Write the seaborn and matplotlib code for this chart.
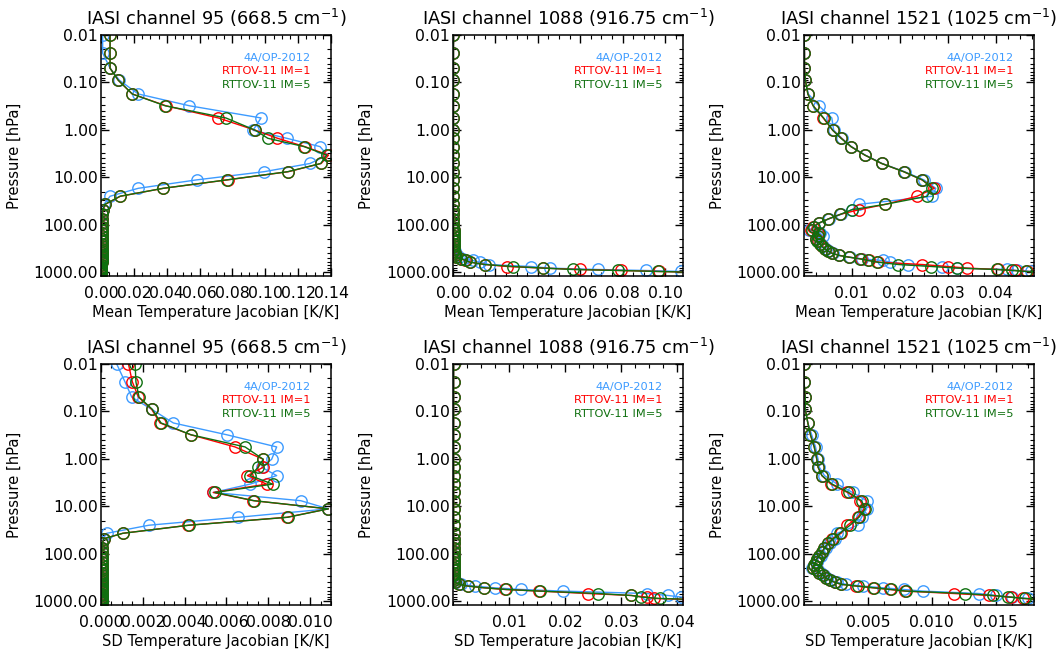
import numpy as np
import pandas as pd
import matplotlib
matplotlib.use("Agg")
import matplotlib.pyplot as plt
import seaborn as sns
from matplotlib.ticker import (FixedLocator, FormatStrFormatter, LogLocator,
                               NullFormatter, AutoMinorLocator)

# ---------------------------------------------------------------------------
# Pressure levels [hPa] shared by all profiles
# ---------------------------------------------------------------------------
pressure = [0.01, 0.024, 0.05, 0.09, 0.175, 0.31, 0.56, 1.02, 1.5, 2.25,
            3.4, 5.1, 7.6, 11.3, 17, 25, 37, 48, 60, 75,
            92, 110, 128, 148, 170, 195, 222, 252, 285, 320,
            358, 398, 440, 480, 521, 565, 611, 687, 756, 817,
            874, 917, 962, 1005, 1050, 1100]

models = ["4A/OP-2012", "RTTOV-11 IM=1", "RTTOV-11 IM=5"]
model_colors = ["#3d9bff", "#ff0000", "#0f700f"]

# ---------------------------------------------------------------------------
# Channel 95 (668.5 cm-1) - mean Jacobian
# ---------------------------------------------------------------------------
mean95_4a = [0.0010, 0.0010, 0.0055, 0.0112, 0.0227, 0.0538, 0.0974, 0.0925, 0.1130, 0.1333,
             0.1378, 0.1272, 0.0992, 0.0582, 0.0227, 0.0055, 0.0018, 0.0010, 0.0007, 0.0006,
             0.0005, 0.0005, 0.0004, 0.0004, 0.0004, 0.0004, 0.0004, 0.0004, 0.0003, 0.0003,
             0.0003, 0.0003, 0.0003, 0.0003, 0.0003, 0.0003, 0.0003, 0.0002, 0.0002, 0.0002,
             0.0002, 0.0002, 0.0002, 0.0002, 0.0002, 0.0002]
mean95_im1 = [0.0055, 0.0055, 0.0055, 0.0105, 0.0190, 0.0395, 0.0714, 0.0940, 0.1074, 0.1240,
              0.1385, 0.1340, 0.1140, 0.0770, 0.0380, 0.0118, 0.0026, 0.0012, 0.0008, 0.0006,
              0.0005, 0.0005, 0.0004, 0.0004, 0.0004, 0.0004, 0.0004, 0.0003, 0.0003, 0.0003,
              0.0003, 0.0003, 0.0003, 0.0003, 0.0003, 0.0003, 0.0003, 0.0002, 0.0002, 0.0002,
              0.0002, 0.0002, 0.0002, 0.0002, 0.0002, 0.0002]
mean95_im5 = [0.0055, 0.0055, 0.0055, 0.0105, 0.0190, 0.0390, 0.0760, 0.0940, 0.1015, 0.1236,
              0.1374, 0.1337, 0.1136, 0.0765, 0.0379, 0.0116, 0.0024, 0.0012, 0.0008, 0.0006,
              0.0005, 0.0005, 0.0004, 0.0004, 0.0004, 0.0004, 0.0004, 0.0003, 0.0003, 0.0003,
              0.0003, 0.0003, 0.0003, 0.0003, 0.0003, 0.0003, 0.0003, 0.0002, 0.0002, 0.0002,
              0.0002, 0.0002, 0.0002, 0.0002, 0.0002, 0.0002]

# ---------------------------------------------------------------------------
# Channel 1088 (916.75 cm-1) - mean Jacobian
# ---------------------------------------------------------------------------
mean1088_4a = [0.0002, 0.0002, 0.0002, 0.0002, 0.0002, 0.0002, 0.0002, 0.0002, 0.0002, 0.0002,
               0.0002, 0.0002, 0.0002, 0.0002, 0.0002, 0.0002, 0.0002, 0.0002, 0.0002, 0.0002,
               0.0002, 0.0002, 0.0003, 0.0003, 0.0003, 0.0003, 0.0004, 0.0004, 0.0005, 0.0006,
               0.0008, 0.0011, 0.0018, 0.0030, 0.0047, 0.0094, 0.0125, 0.0170, 0.0367, 0.0456,
               0.0684, 0.0909, 0.1077, 0.1250, 0.1380, 0.1450]
mean1088_im1 = [0.0002, 0.0002, 0.0002, 0.0002, 0.0002, 0.0002, 0.0002, 0.0002, 0.0002, 0.0002,
                0.0002, 0.0002, 0.0002, 0.0002, 0.0002, 0.0002, 0.0002, 0.0002, 0.0002, 0.0002,
                0.0002, 0.0002, 0.0003, 0.0003, 0.0003, 0.0003, 0.0003, 0.0004, 0.0004, 0.0005,
                0.0006, 0.0008, 0.0011, 0.0016, 0.0038, 0.0058, 0.0080, 0.0150, 0.0256, 0.0425,
                0.0597, 0.0790, 0.0972, 0.1160, 0.1310, 0.1410]
mean1088_im5 = [0.0002, 0.0002, 0.0002, 0.0002, 0.0002, 0.0002, 0.0002, 0.0002, 0.0002, 0.0002,
                0.0002, 0.0002, 0.0002, 0.0002, 0.0002, 0.0002, 0.0002, 0.0002, 0.0002, 0.0002,
                0.0002, 0.0002, 0.0003, 0.0003, 0.0003, 0.0003, 0.0003, 0.0004, 0.0004, 0.0005,
                0.0006, 0.0008, 0.0011, 0.0016, 0.0039, 0.0060, 0.0079, 0.0150, 0.0283, 0.0425,
                0.0564, 0.0780, 0.0965, 0.1150, 0.1300, 0.1400]

# ---------------------------------------------------------------------------
# Channel 1521 (1025 cm-1) - mean Jacobian
# ---------------------------------------------------------------------------
mean1521_4a = [0.0000, 0.0001, 0.0001, 0.0003, 0.0009, 0.0031, 0.0058, 0.0062, 0.0079, 0.0099,
               0.0128, 0.0163, 0.0210, 0.0250, 0.0275, 0.0268, 0.0115, 0.0100, 0.0078, 0.0052,
               0.0032, 0.0021, 0.0011, 0.0033, 0.0040, 0.0026, 0.0030, 0.0035, 0.0039, 0.0045,
               0.0052, 0.0060, 0.0074, 0.0095, 0.0120, 0.0164, 0.0180, 0.0216, 0.0288, 0.0320,
               0.0423, 0.0445, 0.0474, 0.0530, 0.0570, 0.0610]
mean1521_im1 = [0.0000, 0.0001, 0.0001, 0.0003, 0.0008, 0.0019, 0.0040, 0.0060, 0.0078, 0.0098,
                0.0127, 0.0162, 0.0208, 0.0246, 0.0272, 0.0236, 0.0170, 0.0115, 0.0076, 0.0051,
                0.0031, 0.0018, 0.0015, 0.0030, 0.0030, 0.0025, 0.0029, 0.0034, 0.0038, 0.0044,
                0.0051, 0.0059, 0.0073, 0.0094, 0.0118, 0.0136, 0.0155, 0.0247, 0.0300, 0.0340,
                0.0405, 0.0440, 0.0466, 0.0520, 0.0560, 0.0600]
mean1521_im5 = [0.0000, 0.0001, 0.0001, 0.0003, 0.0008, 0.0019, 0.0041, 0.0060, 0.0077, 0.0098,
                0.0127, 0.0162, 0.0208, 0.0247, 0.0267, 0.0257, 0.0170, 0.0100, 0.0076, 0.0051,
                0.0031, 0.0020, 0.0017, 0.0031, 0.0029, 0.0024, 0.0028, 0.0033, 0.0037, 0.0043,
                0.0050, 0.0058, 0.0072, 0.0093, 0.0116, 0.0134, 0.0152, 0.0197, 0.0266, 0.0319,
                0.0402, 0.0435, 0.0464, 0.0520, 0.0560, 0.0600]

# ---------------------------------------------------------------------------
# Channel 95 (668.5 cm-1) - standard deviation of the Jacobian
# ---------------------------------------------------------------------------
sd95_4a = [0.00075, 0.00115, 0.00147, 0.00242, 0.00346, 0.00601, 0.00840, 0.00816, 0.00768, 0.00840,
           0.00713, 0.00537, 0.00955, 0.01087, 0.00657, 0.00229, 0.00027, 0.00010, 0.00005, 0.00004,
           0.00004, 0.00004, 0.00004, 0.00004, 0.00004, 0.00004, 0.00004, 0.00004, 0.00004, 0.00004,
           0.00003, 0.00003, 0.00003, 0.00003, 0.00003, 0.00003, 0.00003, 0.00003, 0.00003, 0.00003,
           0.00003, 0.00003, 0.00003, 0.00003, 0.00003, 0.00003]
sd95_im1 = [0.00131, 0.00150, 0.00179, 0.00242, 0.00282, 0.00429, 0.00641, 0.00776, 0.00776, 0.00700,
            0.00792, 0.00537, 0.00729, 0.01087, 0.00888, 0.00418, 0.00104, 0.00014, 0.00006, 0.00004,
            0.00004, 0.00004, 0.00004, 0.00004, 0.00004, 0.00004, 0.00004, 0.00004, 0.00004, 0.00004,
            0.00003, 0.00003, 0.00003, 0.00003, 0.00003, 0.00003, 0.00003, 0.00003, 0.00003, 0.00003,
            0.00003, 0.00003, 0.00003, 0.00003, 0.00003, 0.00003]
sd95_im5 = [0.00163, 0.00167, 0.00182, 0.00245, 0.00287, 0.00430, 0.00689, 0.00776, 0.00752, 0.00713,
            0.00821, 0.00545, 0.00732, 0.01087, 0.00893, 0.00422, 0.00104, 0.00014, 0.00006, 0.00004,
            0.00004, 0.00004, 0.00004, 0.00004, 0.00004, 0.00004, 0.00004, 0.00004, 0.00004, 0.00004,
            0.00003, 0.00003, 0.00003, 0.00003, 0.00003, 0.00003, 0.00003, 0.00003, 0.00003, 0.00003,
            0.00003, 0.00003, 0.00003, 0.00003, 0.00003, 0.00003]

# ---------------------------------------------------------------------------
# Channel 1088 (916.75 cm-1) - standard deviation of the Jacobian
# ---------------------------------------------------------------------------
sd1088_4a = [0.0001, 0.0001, 0.0001, 0.0001, 0.0001, 0.0001, 0.0001, 0.0001, 0.0001, 0.0001,
             0.0001, 0.0001, 0.0001, 0.0001, 0.0001, 0.0001, 0.0001, 0.0001, 0.0001, 0.0001,
             0.0001, 0.0001, 0.0001, 0.0001, 0.0001, 0.0001, 0.0001, 0.0002, 0.0002, 0.0002,
             0.0003, 0.0005, 0.0014, 0.0039, 0.0074, 0.0122, 0.0196, 0.0345, 0.0383, 0.0407,
             0.0440, 0.0480, 0.0520, 0.0550, 0.0580, 0.0600]
sd1088_im1 = [0.0001, 0.0001, 0.0001, 0.0001, 0.0001, 0.0001, 0.0001, 0.0001, 0.0001, 0.0001,
              0.0001, 0.0001, 0.0001, 0.0001, 0.0001, 0.0001, 0.0001, 0.0001, 0.0001, 0.0001,
              0.0001, 0.0001, 0.0001, 0.0001, 0.0001, 0.0001, 0.0001, 0.0001, 0.0002, 0.0002,
              0.0002, 0.0004, 0.0010, 0.0027, 0.0055, 0.0093, 0.0153, 0.0240, 0.0318, 0.0345,
              0.0359, 0.0420, 0.0470, 0.0510, 0.0540, 0.0560]
sd1088_im5 = [0.0001, 0.0001, 0.0001, 0.0001, 0.0001, 0.0001, 0.0001, 0.0001, 0.0001, 0.0001,
              0.0001, 0.0001, 0.0001, 0.0001, 0.0001, 0.0001, 0.0001, 0.0001, 0.0001, 0.0001,
              0.0001, 0.0001, 0.0001, 0.0001, 0.0001, 0.0001, 0.0001, 0.0001, 0.0002, 0.0002,
              0.0002, 0.0004, 0.0010, 0.0027, 0.0056, 0.0095, 0.0155, 0.0259, 0.0318, 0.0335,
              0.0369, 0.0430, 0.0480, 0.0520, 0.0550, 0.0570]

# ---------------------------------------------------------------------------
# Channel 1521 (1025 cm-1) - standard deviation of the Jacobian
# ---------------------------------------------------------------------------
sd1521_4a = [0.0000, 0.0000, 0.0001, 0.0001, 0.0003, 0.0006, 0.0009, 0.0011, 0.0012, 0.0016,
             0.0026, 0.0038, 0.0049, 0.0049, 0.0045, 0.0042, 0.0026, 0.0024, 0.0020, 0.0017,
             0.0015, 0.0013, 0.0011, 0.0010, 0.0008, 0.0006, 0.0011, 0.0013, 0.0016, 0.0018,
             0.0021, 0.0026, 0.0033, 0.0046, 0.0062, 0.0078, 0.0093, 0.0137, 0.0150, 0.0163,
             0.0175, 0.0190, 0.0200, 0.0210, 0.0218, 0.0225]
sd1521_im1 = [0.0000, 0.0000, 0.0001, 0.0001, 0.0003, 0.0005, 0.0008, 0.0010, 0.0011, 0.0014,
              0.0021, 0.0034, 0.0044, 0.0047, 0.0042, 0.0034, 0.0029, 0.0022, 0.0019, 0.0016,
              0.0014, 0.0012, 0.0010, 0.0009, 0.0008, 0.0007, 0.0010, 0.0012, 0.0015, 0.0017,
              0.0020, 0.0024, 0.0029, 0.0041, 0.0054, 0.0067, 0.0079, 0.0117, 0.0145, 0.0162,
              0.0171, 0.0185, 0.0195, 0.0205, 0.0212, 0.0220]
sd1521_im5 = [0.0000, 0.0000, 0.0001, 0.0001, 0.0003, 0.0005, 0.0008, 0.0010, 0.0011, 0.0014,
              0.0022, 0.0035, 0.0045, 0.0048, 0.0043, 0.0036, 0.0028, 0.0023, 0.0019, 0.0016,
              0.0014, 0.0012, 0.0010, 0.0009, 0.0008, 0.0007, 0.0010, 0.0012, 0.0015, 0.0017,
              0.0020, 0.0024, 0.0029, 0.0042, 0.0055, 0.0068, 0.0080, 0.0126, 0.0148, 0.0160,
              0.0173, 0.0185, 0.0195, 0.0205, 0.0212, 0.0220]

# ---------------------------------------------------------------------------
# Titles, axis limits and tick labels
# ---------------------------------------------------------------------------
titles = [r"IASI channel 95 (668.5 cm$^{-1}$)",
          r"IASI channel 1088 (916.75 cm$^{-1}$)",
          r"IASI channel 1521 (1025 cm$^{-1}$)"]
pressure_ticks = [0.01, 0.1, 1, 10, 100, 1000]

mean_xmax = [0.14, 0.1085, 0.048]
mean_xticks = [[0.00, 0.02, 0.04, 0.06, 0.08, 0.10, 0.12, 0.14],
               [0.00, 0.02, 0.04, 0.06, 0.08, 0.10],
               [0.01, 0.02, 0.03, 0.04]]
mean_xfmt = ["%.2f", "%.2f", "%.2f"]

sd_xmax = [0.011, 0.041, 0.018]
sd_xticks = [[0.000, 0.002, 0.004, 0.006, 0.008, 0.010],
             [0.01, 0.02, 0.03, 0.04],
             [0.005, 0.010, 0.015]]
sd_xfmt = ["%.3f", "%.2f", "%.3f"]

mean_series = [[mean95_4a, mean95_im1, mean95_im5],
               [mean1088_4a, mean1088_im1, mean1088_im5],
               [mean1521_4a, mean1521_im1, mean1521_im5]]
sd_series = [[sd95_4a, sd95_im1, sd95_im5],
             [sd1088_4a, sd1088_im1, sd1088_im5],
             [sd1521_4a, sd1521_im1, sd1521_im5]]

# ---------------------------------------------------------------------------
# Style
# ---------------------------------------------------------------------------
sns.set_theme(style="ticks", rc={
    "xtick.direction": "in", "ytick.direction": "in",
    "axes.edgecolor": "black", "axes.linewidth": 1.1,
    "xtick.color": "black", "ytick.color": "black",
    "text.color": "black", "axes.labelcolor": "black",
})
plt.rcParams["font.family"] = ["DejaVu Sans"]
plt.rcParams["mathtext.fontset"] = "dejavusans"

fig = plt.figure(figsize=(10.6, 6.53), dpi=100)

lefts = [0.0953, 0.4274, 0.7585]
width = 0.2170
height = 0.3691
bottoms = [0.5773, 0.0735]


def profile_frame(values_by_model):
    rows = []
    for model, vals in zip(models, values_by_model):
        if len(vals) != len(pressure):
            raise ValueError(f"{model}: {len(vals)} values for {len(pressure)} levels")
        rows.append(pd.DataFrame({"pressure": pressure, "jacobian": vals, "model": model}))
    return pd.concat(rows, ignore_index=True)


def draw_panel(ax, title, values_by_model, xmax, xticks, xfmt, xlabel):
    ax.set_yscale("log")
    df = profile_frame(values_by_model)
    for model, color in zip(models, model_colors):
        sub = df[df["model"] == model]
        sns.lineplot(data=sub, x="jacobian", y="pressure", ax=ax,
                     sort=False, estimator=None, color=color,
                     linewidth=1.0, marker="o", markersize=8.2,
                     markerfacecolor="none", markeredgecolor=color,
                     markeredgewidth=1.0, legend=False)

    ax.set_ylim(1200, 0.01)
    ax.set_xlim(0, xmax)
    ax.yaxis.set_major_locator(FixedLocator(pressure_ticks))
    ax.yaxis.set_major_formatter(FormatStrFormatter("%.2f"))
    ax.yaxis.set_minor_locator(LogLocator(base=10, subs=np.arange(2, 10)))
    ax.yaxis.set_minor_formatter(NullFormatter())
    ax.xaxis.set_major_locator(FixedLocator(xticks))
    ax.xaxis.set_major_formatter(FormatStrFormatter(xfmt))
    ax.xaxis.set_minor_locator(AutoMinorLocator(4))

    ax.tick_params(which="both", direction="in", top=True, right=True,
                   labelsize=11.3, colors="black")
    ax.tick_params(which="major", length=6, width=1.0)
    ax.tick_params(which="minor", length=3, width=0.8)
    ax.tick_params(axis="x", which="major", pad=7)
    ax.tick_params(axis="y", which="major", pad=2)

    ax.set_title(title, fontsize=12.8, pad=7)
    ax.set_xlabel(xlabel, fontsize=10.6, labelpad=3)
    ax.set_ylabel("Pressure [hPa]", fontsize=10.6)
    ax.yaxis.set_label_coords(-0.345, 0.5)

    for i, (model, color) in enumerate(zip(models, model_colors)):
        ax.text(0.91, 0.905 - i * 0.056, model, color=color, fontsize=8.2,
                ha="right", va="center", transform=ax.transAxes)

    for spine in ax.spines.values():
        spine.set_linewidth(1.1)
        spine.set_color("black")


for col in range(3):
    ax_top = fig.add_axes([lefts[col], bottoms[0], width, height])
    draw_panel(ax_top, titles[col], mean_series[col], mean_xmax[col],
               mean_xticks[col], mean_xfmt[col], "Mean Temperature Jacobian [K/K]")
    ax_bot = fig.add_axes([lefts[col], bottoms[1], width, height])
    draw_panel(ax_bot, titles[col], sd_series[col], sd_xmax[col],
               sd_xticks[col], sd_xfmt[col], "SD Temperature Jacobian [K/K]")

fig.savefig("out.png", dpi=100, facecolor="white")
